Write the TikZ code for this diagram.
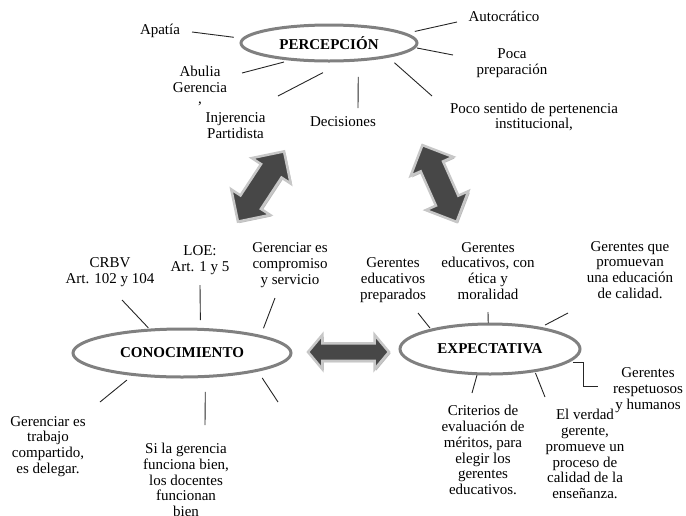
\documentclass[tikz,border=0pt]{standalone}
\usepackage{fontspec}
\setmainfont{Liberation Serif}
\usetikzlibrary{shapes.geometric, shapes.arrows, shadows}

\begin{document}
\begin{tikzpicture}[x=1pt, y=-1pt,
		txt/.style={align=center, inner sep=0pt, font=\fontsize{15}{15.8}\selectfont},
		idea/.style={ellipse, draw=black!50, line width=3pt, inner sep=0pt, outer sep=0pt, font=\fontsize{15}{16}\selectfont\bfseries},
		spoke/.style={black!85, line width=0.9pt},
		bigarrow/.style={double arrow, draw=black!22, line width=2.5pt, fill=black!72, inner xsep=0pt, drop shadow={shadow xshift=1.5pt, shadow yshift=-1.5pt, fill=black!45, opacity=0.6}}]

		\useasboundingbox (0,0) rectangle (686,515);

		% the three ideas
		\node [idea, minimum width=176pt, minimum height=36pt] (per) at (329,43) {PERCEPCIÓN};
		\node [idea, minimum width=218pt, minimum height=48pt] (con) at (182,353) {CONOCIMIENTO};
		\node [idea, minimum width=180pt, minimum height=50pt] (exp) at (490,349) {EXPECTATIVA};

		% big arrows between them
		\node [bigarrow, rotate=56.7, minimum height=84pt, inner ysep=11pt, double arrow head extend=11pt, double arrow tip angle=90] (flechaA) at (261,186.5) {};
		\node [bigarrow, rotate=-66, minimum height=84pt, inner ysep=11pt, double arrow head extend=11pt, double arrow tip angle=90] (flechaB) at (439.5,183.5) {};
		\node [bigarrow, minimum height=81pt, inner ysep=7.5pt, double arrow head extend=8.5pt, double arrow tip angle=100] (flechaC) at (348.5,352) {};

		% percepcion
		\node [txt] (apatia) at (160,31) {Apatía};
		\node [txt] (abulia) at (200,86) {Abulia\\Gerencia\\[-4pt],};
		\node [txt] (injerencia) at (235.5,126) {Injerencia\\Partidista};
		\node [txt] (decisiones) at (343,122) {Decisiones};
		\node [txt] (autocratico) at (504,16) {Autocrático};
		\node [txt] (poca) at (512,63.5) {Poca\\preparación};
		\node [txt] (sentido) at (534,117) {Poco sentido de pertenencia\\institucional,};

		\coordinate (p1) at (192,32);
		\coordinate (p2) at (242,73);
		\coordinate (p3) at (278,96);
		\coordinate (p4) at (358,108);
		\coordinate (p5) at (457,22);
		\coordinate (p6) at (453,55);
		\coordinate (p7) at (432,96);
		\draw [spoke, shorten <=10pt] (per.177.6) -- (p1);
		\draw [spoke, shorten <=10pt] (per.205.6) -- (p2);
		\draw [spoke, shorten <=26pt] (per.-46.8) -- (p3);
		\draw [spoke, shorten <=17pt] (per.-30.4) -- (p4);
		\draw [spoke, shorten <=10.6pt] (per.7.7) -- (p5);
		\draw [spoke, shorten <=3pt] (per.-3) -- (p6);
		\draw [spoke, shorten <=9.5pt] (per.-13.8) -- (p7);

		% conocimiento
		\node [txt] (crbv) at (110,272.5) {CRBV\\Art. 102 y 104};
		\node [txt] (loe) at (200,260.5) {LOE:\\Art. 1 y 5};
		\node [txt] (compromiso) at (290,265) {Gerenciar es\\compromiso\\y servicio};
		\node [txt] (delegar) at (48,446.5) {Gerenciar es\\trabajo\\compartido,\\es delegar.};
		\node [txt] (funciona) at (186,480) {Si la gerencia\\funciona bien,\\los docentes\\funcionan\\bien};

		\coordinate (c1) at (122,300);
		\coordinate (c2) at (200,285);
		\coordinate (c3) at (275,298);
		\coordinate (c4) at (100,402);
		\coordinate (c5) at (205,425);
		\coordinate (c6) at (278,402);
		\draw [spoke, shorten <=3pt] (con.144.5) -- (c1);
		\draw [spoke, shorten <=9.3pt] (con.52.8) -- (c2);
		\draw [spoke, shorten <=8.6pt] (con.12.6) -- (c3);
		\draw [spoke, shorten <=8.7pt] (con.204.6) -- (c4);
		\draw [spoke, shorten <=15.5pt] (con.-45.6) -- (c5);
		\draw [spoke, shorten <=9.1pt] (con.-13.1) -- (c6);

		% expectativa
		\node [txt] (preparados) at (393,280) {Gerentes\\educativos\\preparados};
		\node [txt] (etica) at (488,271) {Gerentes\\educativos, con\\ética y\\moralidad};
		\node [txt] (calidad) at (630,270) {Gerentes que\\promuevan\\una educación\\de calidad.};
		\node [txt] (respetuosos) at (648,390) {Gerentes\\respetuosos\\y humanos};
		\node [txt] (criterios) at (483,450) {Criterios de\\evaluación de\\méritos, para\\elegir los\\gerentes\\educativos.};
		\node [txt] (verdad) at (585,454) {El verdad\\gerente,\\promueve un\\proceso de\\calidad de la\\enseñanza.};

		\coordinate (e1) at (418,313);
		\coordinate (e2) at (488,312);
		\coordinate (e3) at (568,313);
		\coordinate (e4) at (583,386);
		\coordinate (e4b) at (598,386);
		\coordinate (e5) at (472,393);
		\coordinate (e6) at (545,397);
		\draw [spoke, shorten <=2.5pt] (exp.162) -- (e1);
		\draw [spoke, shorten <=1pt] (exp.94.6) -- (e2);
		\draw [spoke, shorten <=6.6pt] (exp.23) -- (e3);
		\draw [spoke, shorten <=7pt] (exp.-10.6) -| (e4) -- (e4b);
		\draw [spoke, shorten <=1.5pt] (exp.-117.1) -- (e5);
		\draw [spoke, shorten <=2.4pt] (exp.-26.3) -- (e6);
	\end{tikzpicture}
\end{document}
